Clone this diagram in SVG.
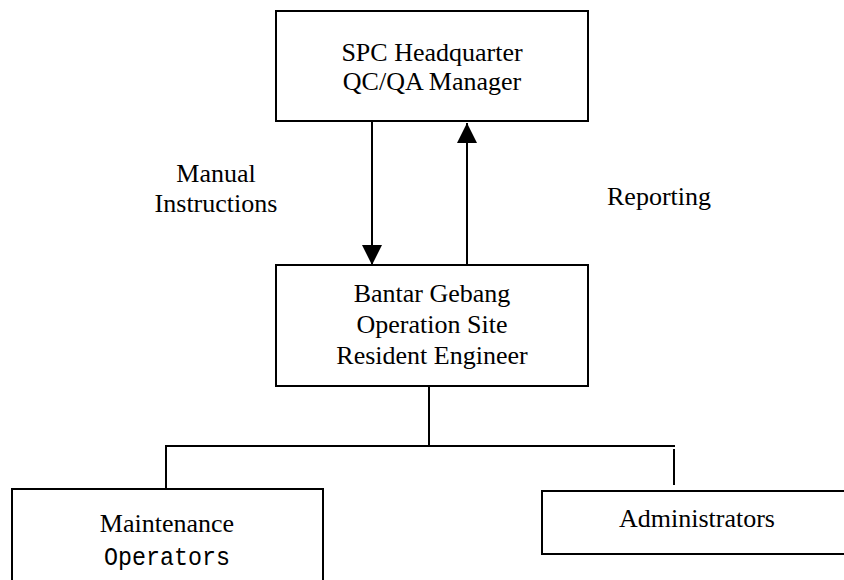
<svg xmlns="http://www.w3.org/2000/svg" width="844" height="580" viewBox="0 0 844 580">
<style>
.box{fill:#fff;stroke:#000;stroke-width:2}
.ln{stroke:#000;stroke-width:2;fill:none}
.t{font-family:'Liberation Serif','DejaVu Serif',serif;font-size:26px;fill:#000;text-anchor:middle}
.m{font-family:'Liberation Mono','DejaVu Sans Mono',monospace;font-size:26px;fill:#000;text-anchor:middle}
</style>
<defs>
<marker id="ah" viewBox="0 0 20 20" refX="20" refY="10" markerWidth="20" markerHeight="20" markerUnits="userSpaceOnUse" orient="auto">
<path d="M0,0 L20,10 L0,20 Z" fill="#000"/>
</marker>
</defs>
<rect width="844" height="580" fill="#fff"/>
<g id="connectors">
<line class="ln" x1="372" y1="121" x2="372" y2="265" marker-end="url(#ah)"/>
<line class="ln" x1="467" y1="265" x2="467" y2="123" marker-end="url(#ah)"/>
<line class="ln" x1="429" y1="386" x2="429" y2="446"/>
<line class="ln" x1="165" y1="446" x2="675" y2="446"/>
<line class="ln" x1="166" y1="446" x2="166" y2="488"/>
<line class="ln" x1="674" y1="449" x2="674" y2="485"/>
</g>
<g id="label-manual">
<text class="t" x="216" y="182">Manual</text>
<text class="t" x="216" y="212">Instructions</text>
</g>
<g id="label-reporting">
<text class="t" x="659" y="205">Reporting</text>
</g>
<g id="hq">
<rect class="box" x="276" y="11" width="312" height="110"/>
<text class="t" x="432" y="61">SPC Headquarter</text>
<text class="t" x="432" y="90">QC/QA Manager</text>
</g>
<g id="site">
<rect class="box" x="276" y="265" width="312" height="121"/>
<text class="t" x="432" y="302">Bantar Gebang</text>
<text class="t" x="432" y="333">Operation Site</text>
<text class="t" x="432" y="364">Resident Engineer</text>
</g>
<g id="maintenance">
<rect class="box" x="12" y="489" width="311" height="110"/>
<text class="t" x="167" y="532">Maintenance</text>
<text class="m" x="167" y="565" textLength="126" lengthAdjust="spacingAndGlyphs">Operators</text>
</g>
<g id="admin">
<rect class="box" x="542" y="491" width="312" height="63"/>
<text class="t" x="697" y="527">Administrators</text>
</g>
</svg>
